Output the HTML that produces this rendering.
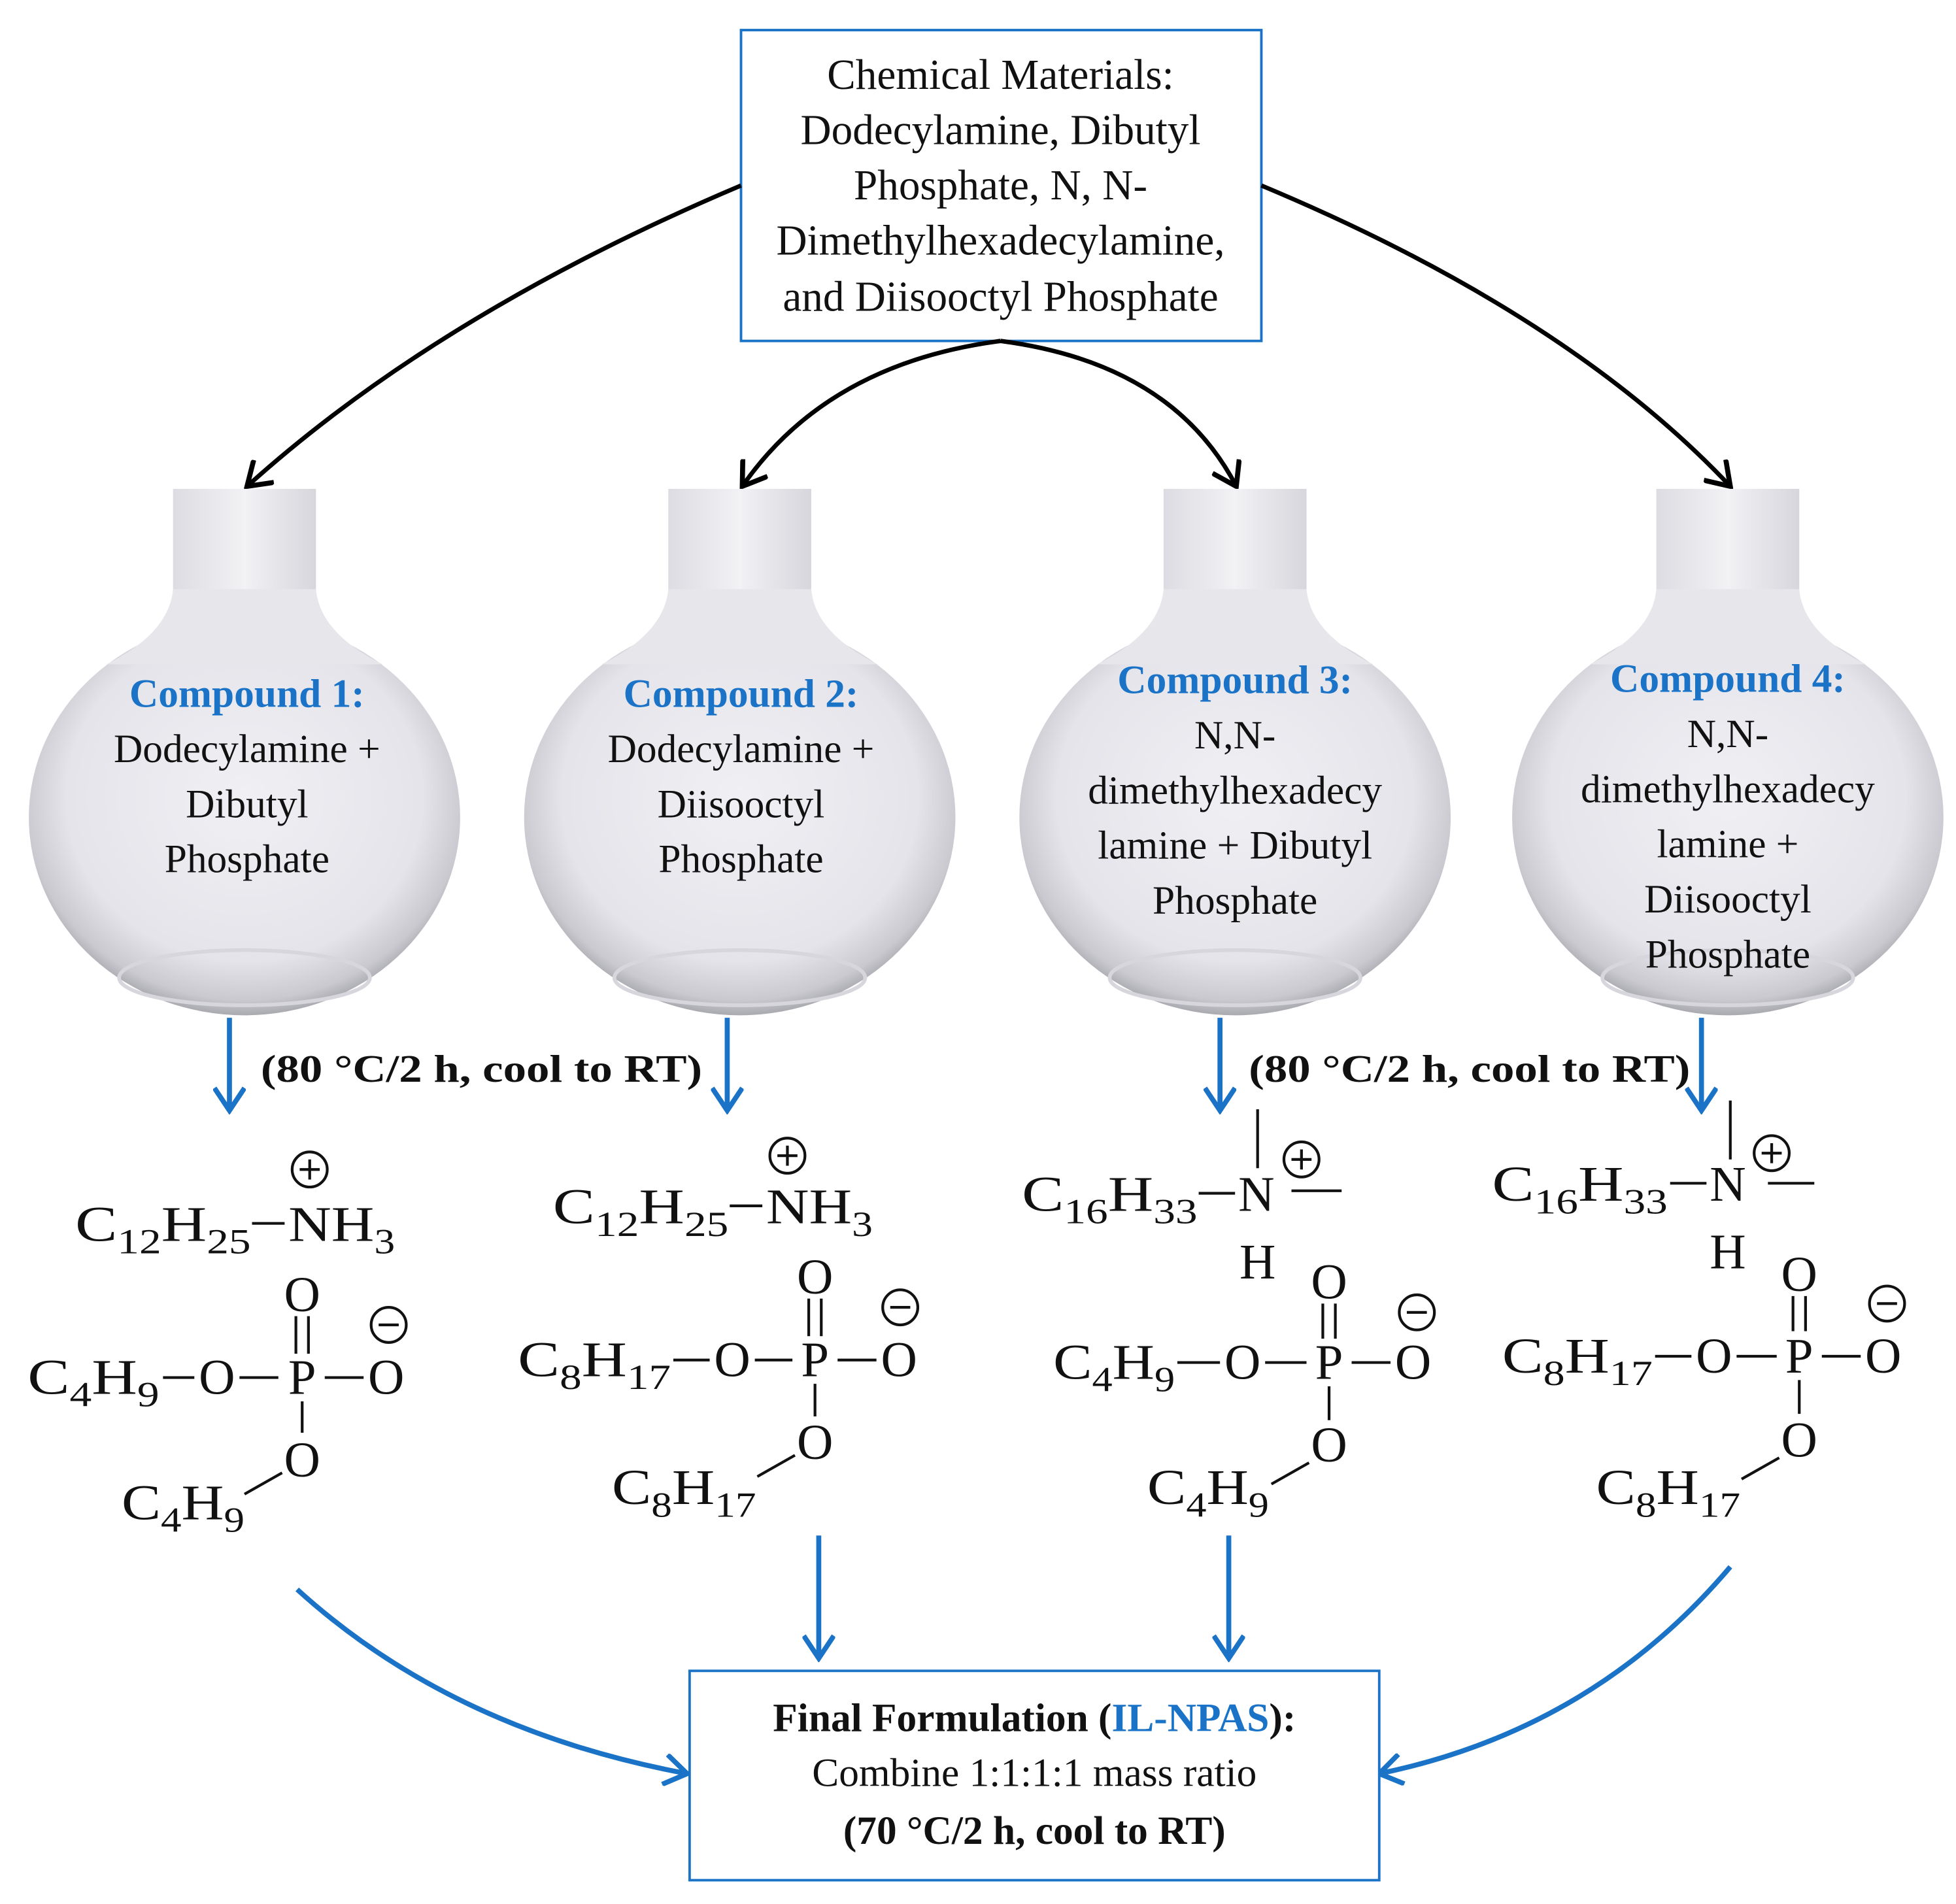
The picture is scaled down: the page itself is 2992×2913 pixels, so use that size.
<!DOCTYPE html>
<html><head><meta charset="utf-8"><style>
html,body{margin:0;padding:0;background:#fff;}
svg{display:block;}
text{font-family:"Liberation Serif",serif;}
</style></head><body>
<svg width="2992" height="2913" viewBox="0 0 1560 1519" preserveAspectRatio="none" xmlns="http://www.w3.org/2000/svg">
<defs>
<radialGradient id="fb" cx="50%" cy="45%" r="55%">
<stop offset="0" stop-color="#f0f0f4"/><stop offset="0.75" stop-color="#e4e4ea"/><stop offset="0.93" stop-color="#c9c9cf"/><stop offset="1" stop-color="#a9a9b0"/>
</radialGradient>
<linearGradient id="nk" x1="0" x2="1">
<stop offset="0" stop-color="#dcdce2"/><stop offset="0.5" stop-color="#f2f2f5"/><stop offset="1" stop-color="#d6d6dc"/>
</linearGradient>
<marker id="ab" markerWidth="22" markerHeight="26" refX="19" refY="13" orient="auto" markerUnits="userSpaceOnUse" viewBox="0 0 22 26">
<path d="M1,1 L19,13 L1,25" fill="none" stroke="#000" stroke-width="4"/></marker>
<marker id="au" markerWidth="22" markerHeight="26" refX="19" refY="13" orient="auto" markerUnits="userSpaceOnUse" viewBox="0 0 22 26">
<path d="M1,1 L19,13 L1,25" fill="none" stroke="#1a73c6" stroke-width="4"/></marker>
<g id="flask">
<rect x="-57" y="390" width="114" height="110" fill="url(#nk)"/>
<ellipse cx="0" cy="652" rx="172" ry="158" fill="url(#fb)"/>
<path d="M-57,470 Q-60,505 -110,530 L110,530 Q60,505 57,470 Z" fill="#e6e6eb"/>
<ellipse cx="0" cy="780" rx="100" ry="22" fill="none" stroke="#d6d6dc" stroke-width="3"/>
</g>
</defs>

<rect x="591" y="24" width="415" height="248" fill="#fff" stroke="#1a73c6" stroke-width="2"/>
<g font-size="34" text-anchor="middle" fill="#111">
<text x="798" y="71">Chemical Materials:</text>
<text x="798" y="115">Dodecylamine, Dibutyl</text>
<text x="798" y="159">Phosphate, N, N-</text>
<text x="798" y="203">Dimethylhexadecylamine,</text>
<text x="798" y="248">and Diisooctyl Phosphate</text>
</g>

<g fill="none" stroke="#000" stroke-width="3.5">
<path d="M591,148 Q350,250 197,388" marker-end="url(#ab)"/>
<path d="M1006,148 Q1250,250 1380,388" marker-end="url(#ab)"/>
<path d="M798,272 Q660,290 592,388" marker-end="url(#ab)"/>
<path d="M798,272 Q935,290 986,388" marker-end="url(#ab)"/>
</g>

<use href="#flask" x="195"/>
<use href="#flask" x="590"/>
<use href="#flask" x="985"/>
<use href="#flask" x="1378"/>

<g font-size="32" text-anchor="middle" fill="#111">
<text x="197" y="564" font-weight="bold" fill="#1a73c6">Compound 1:</text>
<text x="197" y="608">Dodecylamine +</text>
<text x="197" y="652">Dibutyl</text>
<text x="197" y="696">Phosphate</text>
<text x="591" y="564" font-weight="bold" fill="#1a73c6">Compound 2:</text>
<text x="591" y="608">Dodecylamine +</text>
<text x="591" y="652">Diisooctyl</text>
<text x="591" y="696">Phosphate</text>
<text x="985" y="553" font-weight="bold" fill="#1a73c6">Compound 3:</text>
<text x="985" y="597">N,N-</text>
<text x="985" y="641">dimethylhexadecy</text>
<text x="985" y="685">lamine + Dibutyl</text>
<text x="985" y="729">Phosphate</text>
<text x="1378" y="552" font-weight="bold" fill="#1a73c6">Compound 4:</text>
<text x="1378" y="596">N,N-</text>
<text x="1378" y="640">dimethylhexadecy</text>
<text x="1378" y="684">lamine +</text>
<text x="1378" y="728">Diisooctyl</text>
<text x="1378" y="772">Phosphate</text>
</g>

<g fill="none" stroke="#1a73c6" stroke-width="4">
<path d="M183,812 L183,886" marker-end="url(#au)"/>
<path d="M580,812 L580,886" marker-end="url(#au)"/>
<path d="M973,812 L973,886" marker-end="url(#au)"/>
<path d="M1357,812 L1357,886" marker-end="url(#au)"/>
<path d="M653,1225 L653,1323" marker-end="url(#au)"/>
<path d="M980,1225 L980,1323" marker-end="url(#au)"/>
<path d="M237,1268 Q360,1380 548,1415" marker-end="url(#au)"/>
<path d="M1380,1250 Q1270,1380 1100,1415" marker-end="url(#au)"/>
</g>
<g font-size="31" font-weight="bold" fill="#111">
<text x="208" y="863" textLength="352" lengthAdjust="spacingAndGlyphs">(80 °C/2 h, cool to RT)</text>
<text x="996" y="863" textLength="352" lengthAdjust="spacingAndGlyphs">(80 °C/2 h, cool to RT)</text>
</g>

<g font-size="40" fill="#111">
<text x="60" y="990" textLength="140" lengthAdjust="spacingAndGlyphs">C<tspan font-size="28" dy="10">12</tspan><tspan dy="-10">H</tspan><tspan font-size="28" dy="10">25</tspan></text>
<text x="230" y="990" textLength="85" lengthAdjust="spacingAndGlyphs">NH<tspan font-size="28" dy="10">3</tspan></text>
<text x="241" y="1046" text-anchor="middle">O</text>
<text x="22" y="1112" textLength="105" lengthAdjust="spacingAndGlyphs">C<tspan font-size="28" dy="10">4</tspan><tspan dy="-10">H</tspan><tspan font-size="28" dy="10">9</tspan></text>
<text x="173" y="1112" text-anchor="middle">O</text>
<text x="241" y="1112" text-anchor="middle">P</text>
<text x="308" y="1112" text-anchor="middle">O</text>
<text x="241" y="1178" text-anchor="middle">O</text>
<text x="97" y="1212" textLength="98" lengthAdjust="spacingAndGlyphs">C<tspan font-size="28" dy="10">4</tspan><tspan dy="-10">H</tspan><tspan font-size="28" dy="10">9</tspan></text>
<text x="441" y="976" textLength="140" lengthAdjust="spacingAndGlyphs">C<tspan font-size="28" dy="10">12</tspan><tspan dy="-10">H</tspan><tspan font-size="28" dy="10">25</tspan></text>
<text x="611" y="976" textLength="85" lengthAdjust="spacingAndGlyphs">NH<tspan font-size="28" dy="10">3</tspan></text>
<text x="650" y="1032" text-anchor="middle">O</text>
<text x="413" y="1098" textLength="122" lengthAdjust="spacingAndGlyphs">C<tspan font-size="28" dy="10">8</tspan><tspan dy="-10">H</tspan><tspan font-size="28" dy="10">17</tspan></text>
<text x="584" y="1098" text-anchor="middle">O</text>
<text x="650" y="1098" text-anchor="middle">P</text>
<text x="717" y="1098" text-anchor="middle">O</text>
<text x="650" y="1164" text-anchor="middle">O</text>
<text x="488" y="1200" textLength="115" lengthAdjust="spacingAndGlyphs">C<tspan font-size="28" dy="10">8</tspan><tspan dy="-10">H</tspan><tspan font-size="28" dy="10">17</tspan></text>
<text x="815" y="966" textLength="140" lengthAdjust="spacingAndGlyphs">C<tspan font-size="28" dy="10">16</tspan><tspan dy="-10">H</tspan><tspan font-size="28" dy="10">33</tspan></text>
<text x="1002" y="966" text-anchor="middle">N</text>
<text x="1003" y="1020" text-anchor="middle">H</text>
<text x="1060" y="1036" text-anchor="middle">O</text>
<text x="840" y="1100" textLength="97" lengthAdjust="spacingAndGlyphs">C<tspan font-size="28" dy="10">4</tspan><tspan dy="-10">H</tspan><tspan font-size="28" dy="10">9</tspan></text>
<text x="991" y="1100" text-anchor="middle">O</text>
<text x="1060" y="1100" text-anchor="middle">P</text>
<text x="1127" y="1100" text-anchor="middle">O</text>
<text x="1060" y="1166" text-anchor="middle">O</text>
<text x="915" y="1200" textLength="97" lengthAdjust="spacingAndGlyphs">C<tspan font-size="28" dy="10">4</tspan><tspan dy="-10">H</tspan><tspan font-size="28" dy="10">9</tspan></text>
<text x="1190" y="958" textLength="140" lengthAdjust="spacingAndGlyphs">C<tspan font-size="28" dy="10">16</tspan><tspan dy="-10">H</tspan><tspan font-size="28" dy="10">33</tspan></text>
<text x="1378" y="958" text-anchor="middle">N</text>
<text x="1378" y="1012" text-anchor="middle">H</text>
<text x="1435" y="1030" text-anchor="middle">O</text>
<text x="1198" y="1095" textLength="120" lengthAdjust="spacingAndGlyphs">C<tspan font-size="28" dy="10">8</tspan><tspan dy="-10">H</tspan><tspan font-size="28" dy="10">17</tspan></text>
<text x="1367" y="1095" text-anchor="middle">O</text>
<text x="1435" y="1095" text-anchor="middle">P</text>
<text x="1502" y="1095" text-anchor="middle">O</text>
<text x="1435" y="1162" text-anchor="middle">O</text>
<text x="1273" y="1200" textLength="115" lengthAdjust="spacingAndGlyphs">C<tspan font-size="28" dy="10">8</tspan><tspan dy="-10">H</tspan><tspan font-size="28" dy="10">17</tspan></text>
</g>
<g stroke="#111" stroke-width="2.2" fill="none">
<path d="M201,976 H227"/>
<path d="M130,1099 H155 M191,1099 H222 M259,1099 H290"/>
<path d="M236,1050 V1080 M246,1050 V1080 M241,1118 V1143 M195,1192 L225,1175"/>
<circle cx="247" cy="933" r="14"/><path d="M239,933 H255 M247,925 V941"/>
<circle cx="310" cy="1057" r="14"/><path d="M302,1057 H318"/>
<path d="M582,962 H608"/>
<path d="M537,1085 H566 M602,1085 H632 M668,1085 H699"/>
<path d="M645,1036 V1066 M655,1036 V1066 M650,1104 V1130 M604,1178 L634,1161"/>
<circle cx="628" cy="922" r="14"/><path d="M620,922 H636 M628,914 V930"/>
<circle cx="718" cy="1043" r="14"/><path d="M710,1043 H726"/>
<path d="M956,952 H985"/>
<path d="M1003,885 V932 M1030,950 H1070"/>
<path d="M939,1087 H973 M1009,1087 H1042 M1078,1087 H1109"/>
<path d="M1055,1040 V1068 M1065,1040 V1068 M1060,1106 V1133 M1014,1184 L1044,1167"/>
<circle cx="1038" cy="925" r="14"/><path d="M1030,925 H1046 M1038,917 V933"/>
<circle cx="1130" cy="1047" r="14"/><path d="M1122,1047 H1138"/>
<path d="M1332,944 H1361"/>
<path d="M1380,878 V925 M1410,944 H1447"/>
<path d="M1320,1082 H1349 M1385,1082 H1417 M1453,1082 H1484"/>
<path d="M1430,1034 V1062 M1440,1034 V1062 M1435,1101 V1128 M1389,1180 L1419,1163"/>
<circle cx="1413" cy="920" r="14"/><path d="M1405,920 H1421 M1413,912 V928"/>
<circle cx="1505" cy="1040" r="14"/><path d="M1497,1040 H1513"/>
</g>

<rect x="550" y="1333" width="550" height="167" fill="#fff" stroke="#1a73c6" stroke-width="2"/>
<g font-size="32" text-anchor="middle" fill="#111">
<text x="825" y="1381" font-weight="bold">Final Formulation (<tspan fill="#1a73c6">IL-NPAS</tspan>):</text>
<text x="825" y="1425">Combine 1:1:1:1 mass ratio</text>
<text x="825" y="1471" font-weight="bold">(70 °C/2 h, cool to RT)</text>
</g>
</svg>
</body></html>
